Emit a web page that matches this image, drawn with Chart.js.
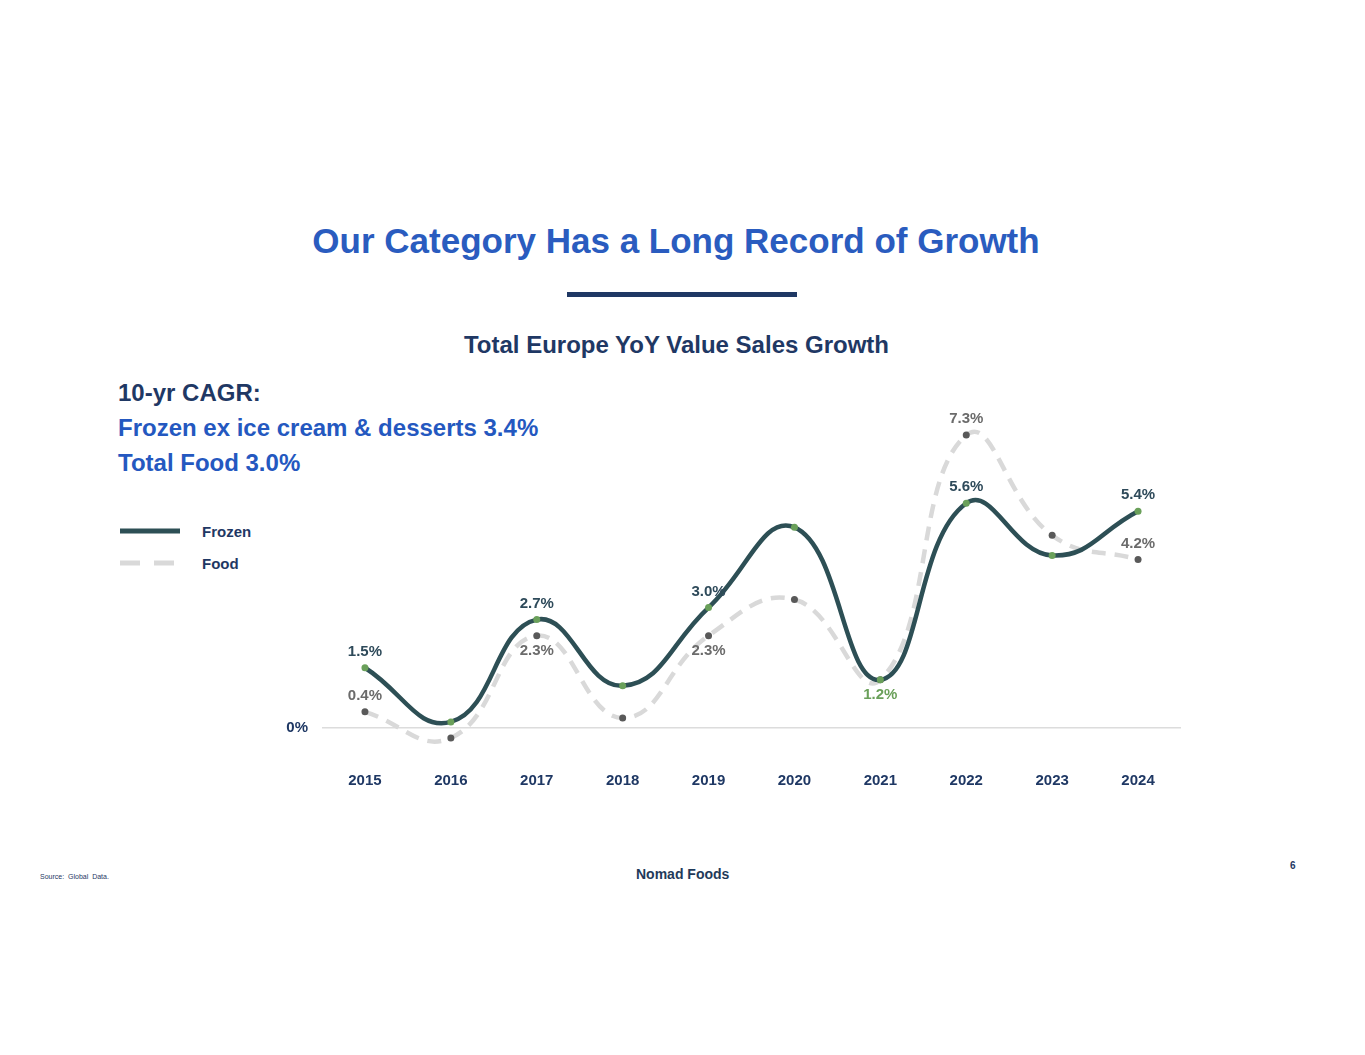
<!DOCTYPE html>
<html>
<head>
<meta charset="utf-8">
<script src="https://cdn.jsdelivr.net/npm/chart.js@4"></script>
<style>
  body { margin: 0; background: #fff; font-family: "Liberation Sans", Arial, sans-serif; }
  .page { position: relative; width: 1365px; height: 1055px; overflow: hidden; }
  .abs { position: absolute; white-space: nowrap; }
</style>
</head>
<body>
<div class="page">
  <div class="abs" style="left:0;width:1352px;top:221px;text-align:center;font-size:35px;font-weight:bold;color:#2a5cbf;">Our Category Has a Long Record of Growth</div>
  <div class="abs" style="left:567px;top:292px;width:230px;height:5px;background:#1f3864;"></div>
  <div class="abs" style="left:0;width:1353px;top:331px;text-align:center;font-size:24px;font-weight:bold;color:#1f3864;">Total Europe YoY Value Sales Growth</div>

  <div class="abs" style="left:118px;top:379px;font-size:24px;font-weight:bold;color:#1f3864;">10-yr CAGR:</div>
  <div class="abs" style="left:118px;top:414px;font-size:24px;font-weight:bold;color:#2458c0;">Frozen ex ice cream &amp; desserts 3.4%</div>
  <div class="abs" style="left:118px;top:449px;font-size:24px;font-weight:bold;color:#2458c0;">Total Food 3.0%</div>

  <svg class="abs" style="left:118px;top:520px;" width="70" height="55">
    <line x1="2" y1="11" x2="62" y2="11" stroke="#2d4f55" stroke-width="5"/>
    <line x1="2" y1="43" x2="62" y2="43" stroke="#d9d9d9" stroke-width="5" stroke-dasharray="20,14"/>
  </svg>
  <div class="abs" style="left:202px;top:523px;font-size:15px;font-weight:bold;color:#1f3864;">Frozen</div>
  <div class="abs" style="left:202px;top:555px;font-size:15px;font-weight:bold;color:#1f3864;">Food</div>

  <div class="abs" style="left:282px;top:380px;width:918px;height:430px;">
    <canvas id="chart"></canvas>
  </div>

  <div class="abs" style="left:40px;top:873px;font-size:7px;color:#1f3864;">Source:&nbsp; Global&nbsp; Data.</div>
  <div class="abs" style="left:636px;top:866px;font-size:14px;font-weight:bold;color:#1f3a5a;">Nomad Foods</div>
  <div class="abs" style="left:1290px;top:860px;font-size:10px;font-weight:bold;color:#1f3864;">6</div>
</div>

<script>
// valeurs (%)
const years = ["2015", "2016", "2017", "2018", "2019", "2020", "2021", "2022", "2023", "2024"];
const frozen = [1.5, 0.15, 2.7, 1.05, 3.0, 5.0, 1.2, 5.6, 4.3, 5.4];
const food = [0.4, -0.25, 2.3, 0.25, 2.3, 3.2, 1.2, 7.3, 4.8, 4.2];
const yTicks = [0];

// étiquettes affichées : 'up', 'down' ou null
const frozenLabelPos = ['up', null, 'up', null, 'up', null, 'down', 'up', null, 'up'];
const foodLabelPos = ['up', null, 'down', null, 'down', null, null, 'up', null, 'up'];

Chart.defaults.font.family = '"Liberation Sans", Arial, sans-serif';

// plugin maison pour les étiquettes de valeurs
const valueLabels = {
  id: 'valueLabels',
  afterDatasetsDraw(chart) {
    const ctx = chart.ctx;
    ctx.save();
    ctx.font = 'bold 15px "Liberation Sans", Arial, sans-serif';
    ctx.textAlign = 'center';
    ctx.textBaseline = 'middle';
    chart.data.datasets.forEach((ds, di) => {
      const meta = chart.getDatasetMeta(di);
      meta.data.forEach((pt, i) => {
        const pos = ds.labelPos[i];
        if (!pos) return;
        const txt = ds.data[i].toFixed(1) + '%';
        ctx.fillStyle = (ds.label === 'Frozen' && pos === 'down') ? '#6aa05a' : ds.labelColor;
        ctx.fillText(txt, pt.x, pos === 'up' ? pt.y - 16 : pt.y + 15);
      });
    });
    ctx.restore();
  }
};

const ctx = document.getElementById('chart').getContext('2d');
const myChart = new Chart(ctx, {
  type: 'line',
  data: {
    labels: years,
    datasets: [
      {
        label: 'Frozen',
        data: frozen,
        labelPos: frozenLabelPos,
        labelColor: '#2e4a5a',
        borderColor: '#2d4f55',
        borderWidth: 4.5,
        tension: 0.45,
        pointRadius: 3.5,
        pointBorderWidth: 0,
        pointBackgroundColor: '#6aa05a',
        order: 1
      },
      {
        label: 'Food',
        data: food,
        labelPos: foodLabelPos,
        labelColor: '#6b6b6b',
        borderColor: '#d9d9d9',
        borderWidth: 4.5,
        borderDash: [14, 9],
        tension: 0.45,
        pointRadius: 3.5,
        pointBorderWidth: 0,
        pointBackgroundColor: '#595959',
        order: 2
      }
    ]
  },
  options: {
    responsive: true,
    maintainAspectRatio: false,
    animation: false,
    layout: { padding: { left: 0, right: 19, top: 27, bottom: 0 } },
    plugins: {
      legend: { display: false },
      tooltip: { enabled: false }
    },
    scales: {
      x: {
        offset: true,
        grid: { display: false },
        border: { display: false },
        ticks: { color: '#1f3864', font: { size: 15, weight: 'bold' }, padding: 4 },
        afterFit(scale) { scale.height = 50; }
      },
      y: {
        min: -0.8,
        max: 8,
        afterBuildTicks(scale) { scale.ticks = yTicks.map(v => ({ value: v })); },
        afterFit(scale) { scale.width = 40; },
        grid: { color: '#dcdcdc', lineWidth: 1.5, drawTicks: false },
        border: { display: false },
        ticks: {
          color: '#1f3864',
          font: { size: 15, weight: 'bold' },
          padding: 14,
          callback: v => v + '%'
        }
      }
    }
  },
  plugins: [valueLabels]
});
</script>
</body>
</html>
